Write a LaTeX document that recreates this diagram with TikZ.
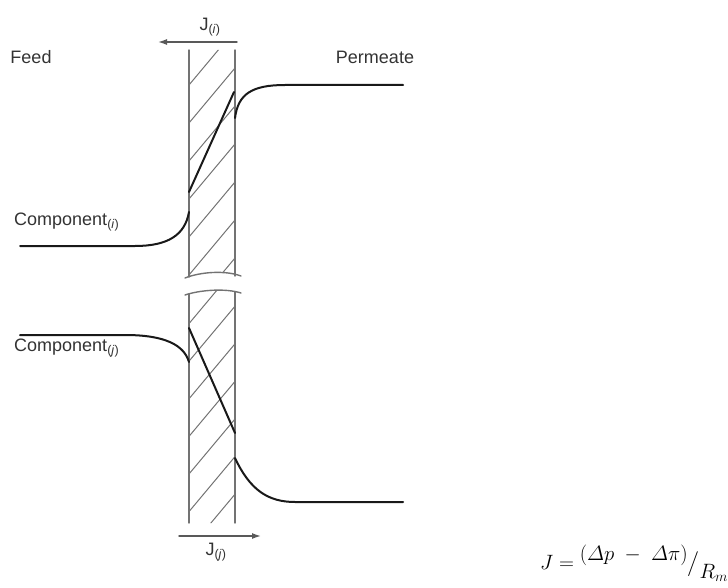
\documentclass[tikz,border=0pt]{standalone}
\usepackage{amsmath}
\usepackage[no-math]{fontspec}
\setmainfont{Liberation Sans}
\usetikzlibrary{arrows.meta}
\definecolor{wallgray}{gray}{0.45}
\definecolor{labelgray}{gray}{0.2}
\begin{document}
\begin{tikzpicture}[x=1pt,y=-1pt,line cap=round,line join=round,
  wall/.style={line width=1.4pt,wallgray},
  hatch/.style={line width=1pt,wallgray},
  profile/.style={line width=2pt,black!90},
  flux/.style={line width=1.4pt,black!65,-{Latex[length=9pt,width=6pt]}},
  lbl/.style={font=\fontsize{18}{21}\selectfont,text=labelgray,inner sep=0pt}]
\useasboundingbox (0,0) rectangle (728,588);
\begin{scope}
\clip (189,50) -- (235,50) -- (235,276) .. controls (222,271) and (205,272) .. (189,277) -- cycle;
\foreach \k in {0,...,6} \draw[hatch] (189,{85+38*\k}) -- (235,{30+38*\k});
\end{scope}
\begin{scope}
\clip (189,294) .. controls (205,290) and (222,289) .. (235,292) -- (235,523) -- (189,523) -- cycle;
\foreach \k in {0,...,7} \draw[hatch] (189,{286+37.6*\k}) -- (235,{231+37.6*\k});
\end{scope}
\draw[wall] (189,50) -- (189,277);
\draw[wall] (235,50) -- (235,276);
\draw[wall] (185,278) .. controls (200,272) and (225,270) .. (241,276);
\draw[wall] (185,295) .. controls (200,290) and (225,288) .. (241,293);
\draw[wall] (189,294) -- (189,523);
\draw[wall] (235,292) -- (235,523);
\draw[profile] (20,246) -- (135,246) .. controls (168,246) and (185,235) .. (189,212);
\draw[profile] (189,192) -- (234,92);
\draw[profile] (235,118) .. controls (238,94) and (252,85) .. (285,85) -- (403,85);
\draw[profile] (20,335) -- (125,335) .. controls (165,335) and (184,345) .. (189,362);
\draw[profile] (189,328) -- (235,433);
\draw[profile] (235,458) .. controls (250,490) and (268,502) .. (295,502) -- (403,502);
\coordinate (fiS) at (237,42);
\coordinate (fiE) at (158,42);
\coordinate (fjS) at (179,536);
\coordinate (fjE) at (261,536);
\draw[flux] (fiS) -- (fiE);
\draw[flux] (fjS) -- (fjE);
\node[lbl] (feed) at (31,57) {Feed};
\node[lbl] (permeate) at (375,57) {Permeate};
\node[lbl,anchor=west] (compi) at (14,222) {Component\textsubscript{(\textit{i})}};
\node[lbl,anchor=west] (compj) at (14,348) {Component\textsubscript{(\textit{j})}};
\node[lbl] (fluxi) at (210,27) {J\textsubscript{(\textit{i})}};
\node[lbl] (fluxj) at (216,552) {J\textsubscript{(\textit{j})}};
\node[anchor=west,inner sep=0pt,font=\fontsize{22}{26}\selectfont] (eqn) at (540,563)
  {$J = \raisebox{9pt}{$(\varDelta p\;-\;\varDelta\pi)$}\big/\raisebox{-9pt}{$R_m$}$};
\end{tikzpicture}
\end{document}
